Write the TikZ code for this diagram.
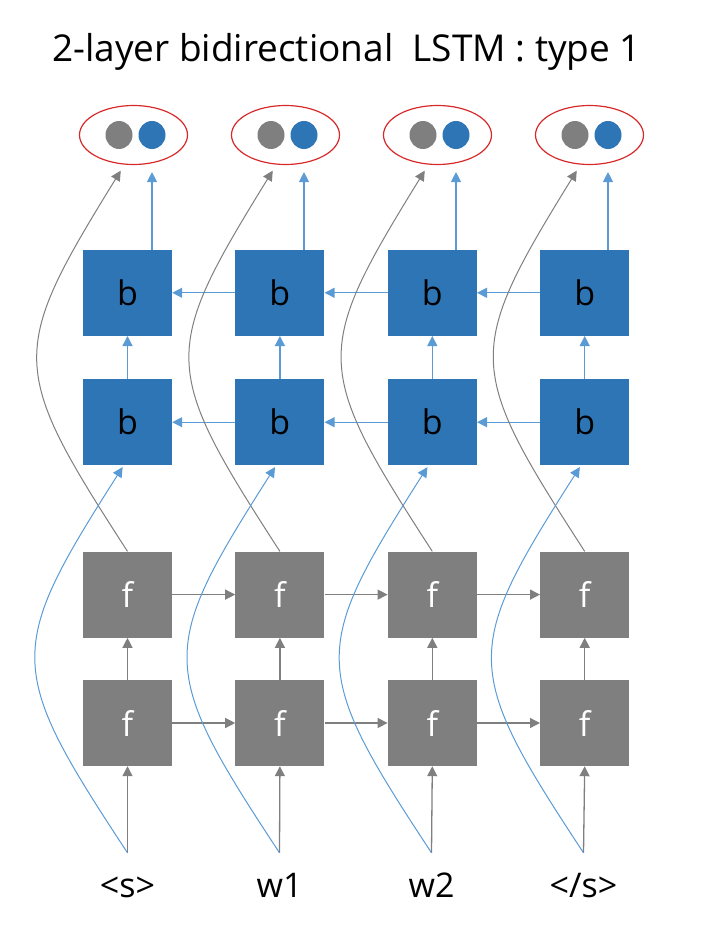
\documentclass[tikz,border=0pt]{standalone}
\usepackage{fontspec}
\setmainfont{Open Sans}
\usetikzlibrary{positioning,shapes.geometric,arrows.meta}
\definecolor{boxblue}{HTML}{2E75B6}
\definecolor{lineblue}{HTML}{5B9BD5}
\definecolor{boxgray}{HTML}{7F7F7F}
\definecolor{ringred}{HTML}{D62828}

\begin{document}
\begin{tikzpicture}[x=1pt,y=-1pt,
      every node/.style={font=\fontsize{34}{40}\selectfont},
      fbox/.style={fill=boxgray,text=white,minimum width=89pt,minimum height=86pt,inner sep=0pt},
      bbox/.style={fill=boxblue,text=black,minimum width=89pt,minimum height=86pt,inner sep=0pt},
      outring/.style={ellipse,draw=ringred,line width=1.2pt,minimum width=108pt,minimum height=59pt,inner sep=0pt},
      dot/.style={ellipse,minimum width=27pt,minimum height=28pt,inner sep=0pt},
      word/.style={anchor=base,text height=26pt,text depth=0pt,inner ysep=18pt,inner xsep=0pt},
      garrow/.style={-{Triangle[length=10pt,width=10pt]},line width=1.3pt,boxgray},
      barrow/.style={-{Triangle[length=10pt,width=10pt]},line width=1.3pt,lineblue},
      gcurve/.style={garrow,line width=1pt,shorten >=7pt},
      bcurve/.style={barrow,line width=1pt,shorten >=2pt}]
      \useasboundingbox (0,0) rectangle (712,944);
      \node[anchor=base,font=\fontsize{37}{42}\selectfont] (title) at (346.5,62) {2-layer bidirectional\ \ LSTM : type 1};
      % forward layers
      \node[fbox] (fa1) at (127.5,723) {f};
      \node[fbox,right=63pt of fa1] (fa2) {f};
      \node[fbox,right=63pt of fa2] (fa3) {f};
      \node[fbox,right=63pt of fa3] (fa4) {f};
      \node[fbox,above=42pt of fa1] (fb1) {f};
      \node[fbox,above=42pt of fa2] (fb2) {f};
      \node[fbox,above=42pt of fa3] (fb3) {f};
      \node[fbox,above=42pt of fa4] (fb4) {f};
      % backward layers
      \node[bbox,above=86pt of fb1] (ba1) {b};
      \node[bbox,above=86pt of fb2] (ba2) {b};
      \node[bbox,above=86pt of fb3] (ba3) {b};
      \node[bbox,above=86pt of fb4] (ba4) {b};
      \node[bbox,above=43pt of ba1] (bb1) {b};
      \node[bbox,above=43pt of ba2] (bb2) {b};
      \node[bbox,above=43pt of ba3] (bb3) {b};
      \node[bbox,above=43pt of ba4] (bb4) {b};
      % outputs
      \node[outring] (out1) at (133.5,135) {};
      \node[outring] (out2) at (285.5,135) {};
      \node[outring] (out3) at (437.5,135) {};
      \node[outring] (out4) at (589.5,135) {};
      \node[dot,fill=boxgray] (og1) at ([xshift=-14.5pt]out1.center) {};
      \node[dot,fill=boxblue] (ob1) at ([xshift=18.5pt]out1.center) {};
      \node[dot,fill=boxgray] (og2) at ([xshift=-14.5pt]out2.center) {};
      \node[dot,fill=boxblue] (ob2) at ([xshift=18.5pt]out2.center) {};
      \node[dot,fill=boxgray] (og3) at ([xshift=-14.5pt]out3.center) {};
      \node[dot,fill=boxblue] (ob3) at ([xshift=18.5pt]out3.center) {};
      \node[dot,fill=boxgray] (og4) at ([xshift=-14.5pt]out4.center) {};
      \node[dot,fill=boxblue] (ob4) at ([xshift=18.5pt]out4.center) {};
      % inputs
      \node[word] (in1) at (127.5,897) {<s>};
      \node[word] (in2) at (279.5,897) {w1};
      \node[word] (in3) at (431.5,897) {w2};
      \node[word] (in4) at (583.5,897) {</s>};
      \draw[garrow] (fa1)--(fa2); \draw[garrow] (fa2)--(fa3); \draw[garrow] (fa3)--(fa4);
      \draw[garrow] (fb1)--(fb2); \draw[garrow] (fb2)--(fb3); \draw[garrow] (fb3)--(fb4);
      \draw[barrow] (ba4)--(ba3); \draw[barrow] (ba3)--(ba2); \draw[barrow] (ba2)--(ba1);
      \draw[barrow] (bb4)--(bb3); \draw[barrow] (bb3)--(bb2); \draw[barrow] (bb2)--(bb1);
      \draw[garrow] (in1.north)--(fa1.south); \draw[garrow] (in2.north)--(fa2.south);
      \draw[garrow] (in3.north)--(fa3.south); \draw[garrow] (in4.north)--(fa4.south);
      \draw[garrow] (fa1)--(fb1); \draw[garrow] (fa2)--(fb2); \draw[garrow] (fa3)--(fb3); \draw[garrow] (fa4)--(fb4);
      \draw[barrow] (ba1)--(bb1); \draw[barrow] (ba2)--(bb2); \draw[barrow] (ba3)--(bb3); \draw[barrow] (ba4)--(bb4);
      \draw[barrow,shorten >=7pt] (bb1.north -| ob1)--(ob1 |- out1.south);
      \draw[barrow,shorten >=7pt] (bb2.north -| ob2)--(ob2 |- out2.south);
      \draw[barrow,shorten >=7pt] (bb3.north -| ob3)--(ob3 |- out3.south);
      \draw[barrow,shorten >=7pt] (bb4.north -| ob4)--(ob4 |- out4.south);
      % skip connections
      \draw[gcurve] (fb1.north) .. controls +(-119,-184) and +(-116,188) .. (out1.253);
      \draw[gcurve] (fb2.north) .. controls +(-119,-184) and +(-116,188) .. (out2.253);
      \draw[gcurve] (fb3.north) .. controls +(-119,-184) and +(-116,188) .. (out3.253);
      \draw[gcurve] (fb4.north) .. controls +(-119,-184) and +(-116,188) .. (out4.253);
      \draw[bcurve] (in1.north) .. controls +(-122,-185) and +(-118,185) .. (ba1.265);
      \draw[bcurve] (in2.north) .. controls +(-122,-185) and +(-118,185) .. (ba2.265);
      \draw[bcurve] (in3.north) .. controls +(-122,-185) and +(-118,185) .. (ba3.265);
      \draw[bcurve] (in4.north) .. controls +(-122,-185) and +(-118,185) .. (ba4.265);
    \end{tikzpicture}
\end{document}
